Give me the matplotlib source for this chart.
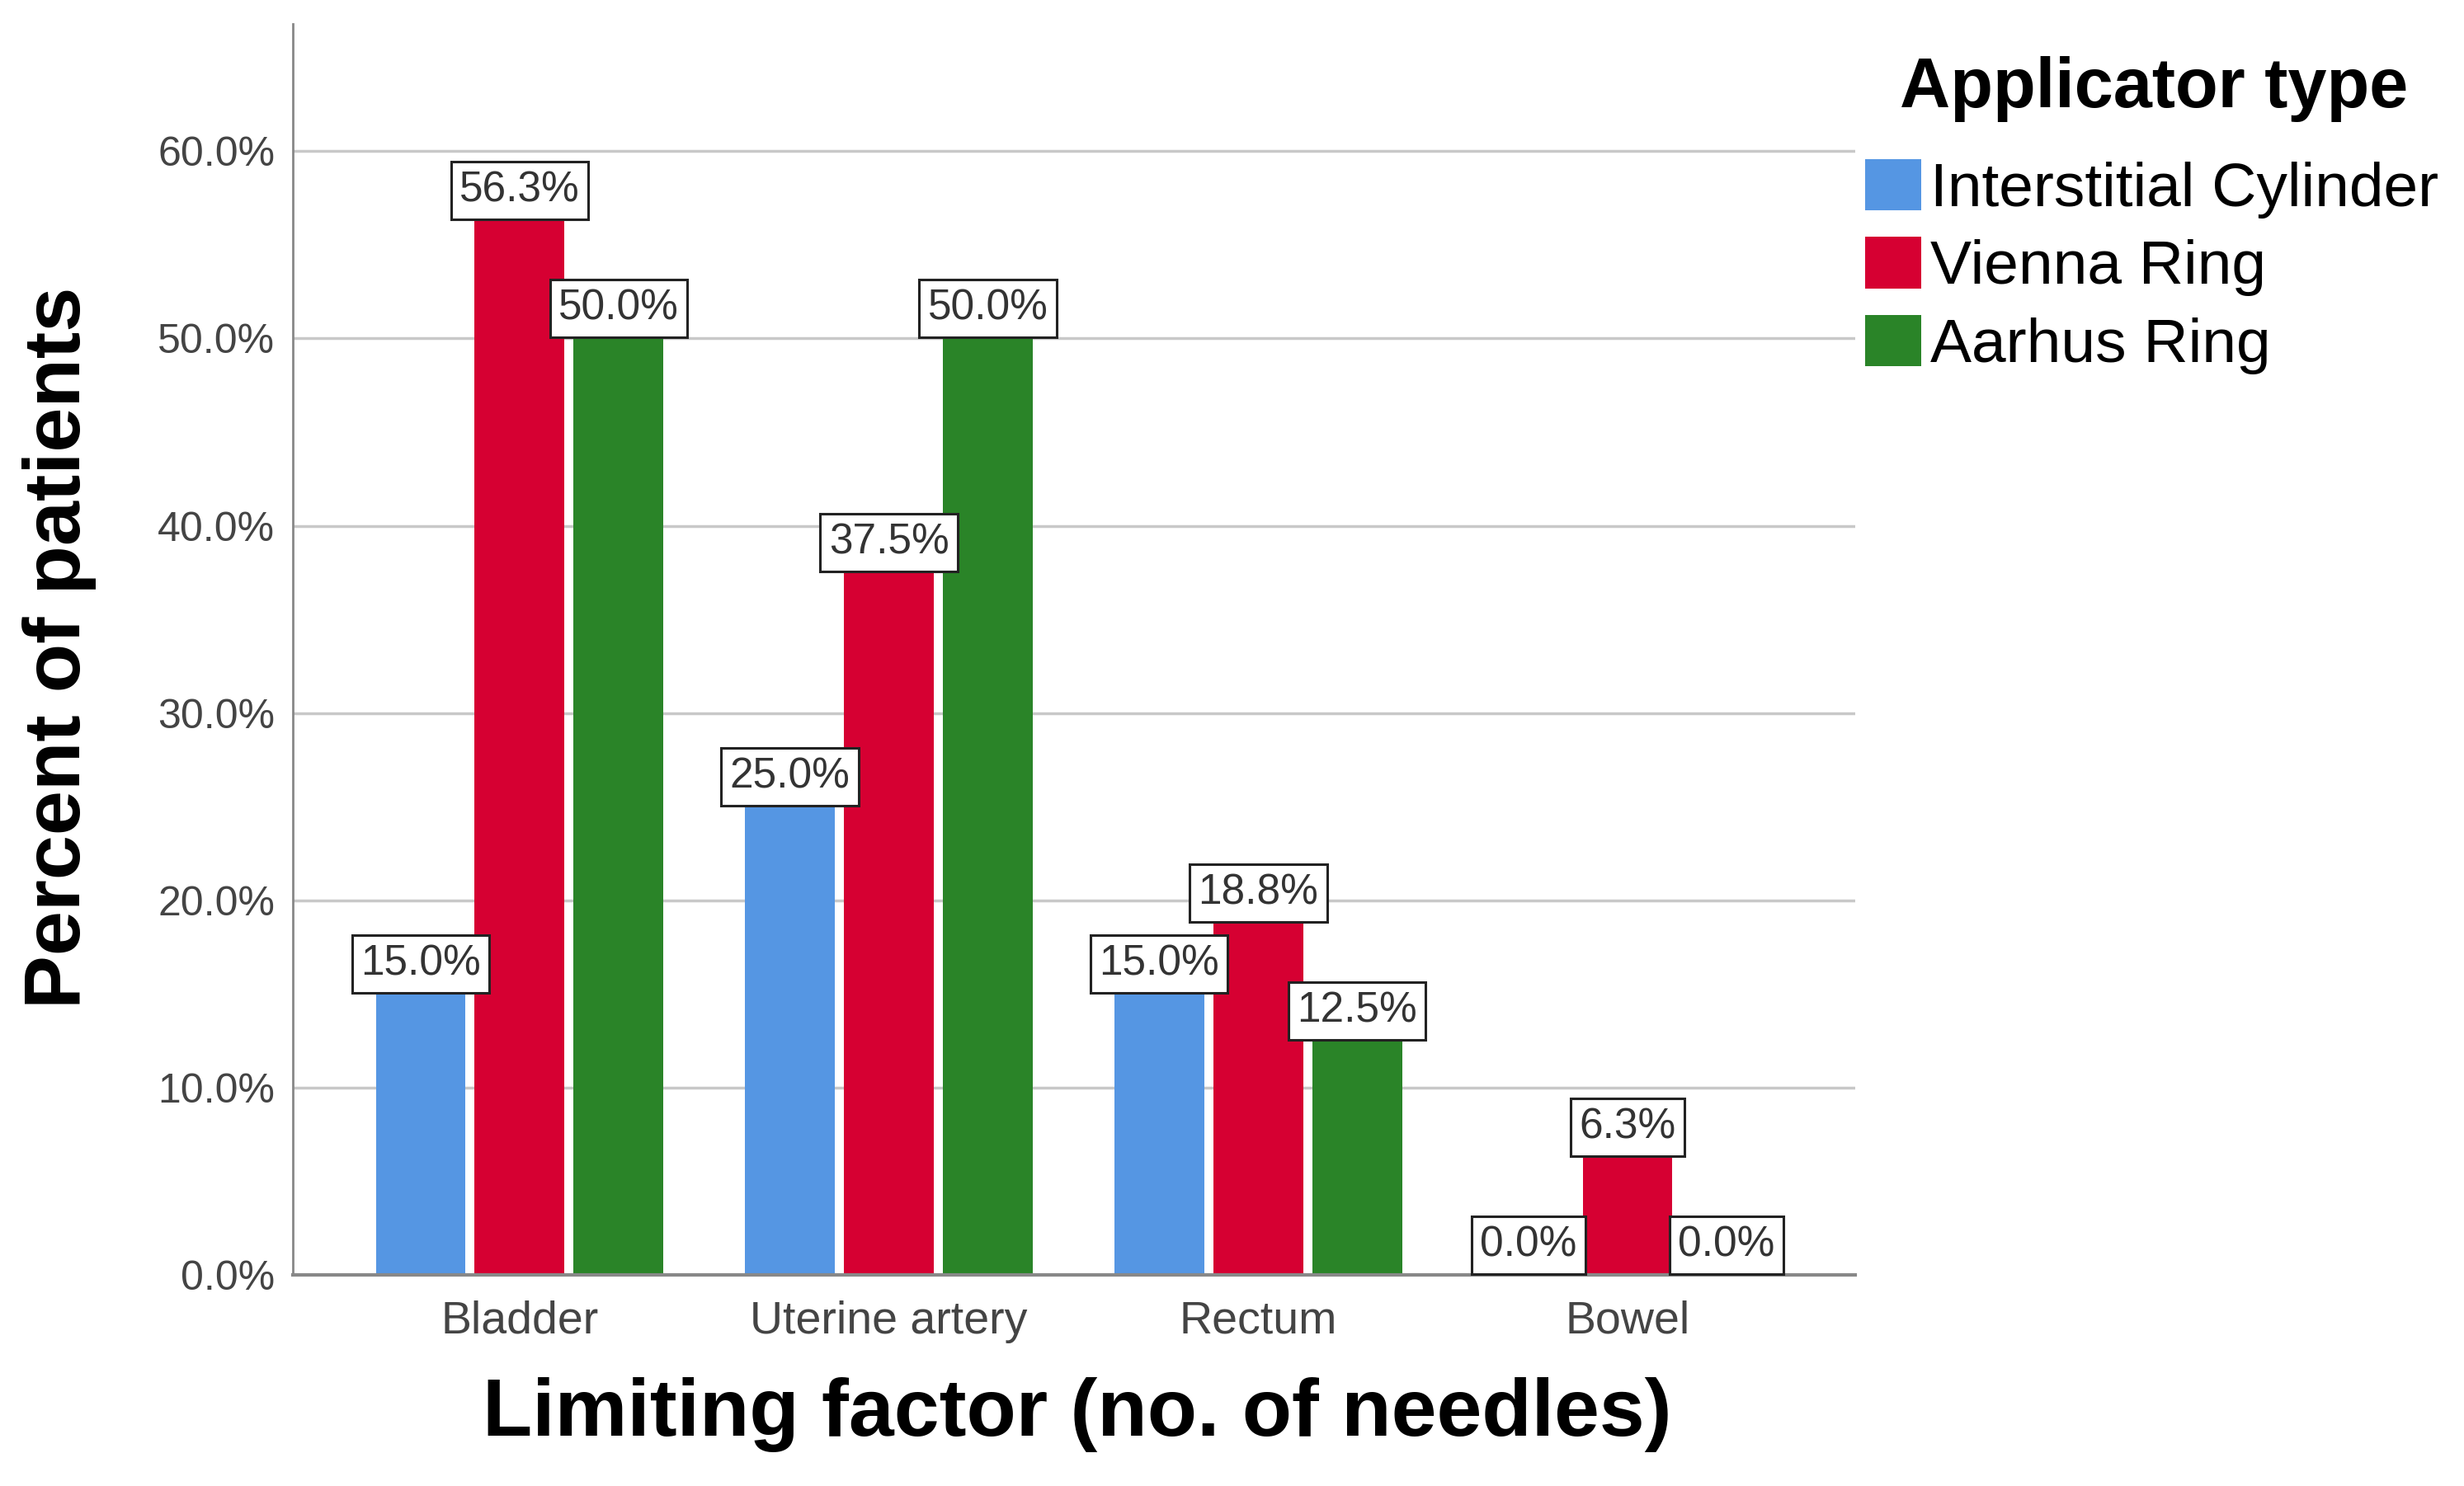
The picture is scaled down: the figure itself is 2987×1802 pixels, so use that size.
import matplotlib
matplotlib.use("Agg")
import matplotlib.pyplot as plt
from matplotlib.patches import Patch
import numpy as np

categories = ["Bladder", "Uterine artery", "Rectum", "Bowel"]
series_names = ["Interstitial Cylinder", "Vienna Ring", "Aarhus Ring"]
interstitial = [15.0, 25.0, 15.0, 0.0]
vienna = [56.3, 37.5, 18.8, 6.3]
aarhus = [50.0, 50.0, 12.5, 0.0]
colors = ["#5596E3", "#D60032", "#2A8428"]
yticks = [0, 10, 20, 30, 40, 50, 60]

plt.rcParams['font.family'] = ['Liberation Sans', 'DejaVu Sans']

fig = plt.figure(figsize=(29.87, 18.02), dpi=100)
ax = fig.add_axes([0.119, 0.142, 0.634, 0.842])

x = np.arange(len(categories))
width = 0.243
offsets = [-0.268, 0.0, 0.268]
series = [interstitial, vienna, aarhus]
vsize = 37
pad = 0.2
for vals, off, col, name in zip(series, offsets, colors, series_names):
    ax.bar(x + off, vals, width=width, color=col, label=name, zorder=3)
    for xi, v in zip(x, vals):
        ax.annotate(f"{v:.1f}%", xy=(xi + off, v), xytext=(0, pad * vsize + 1),
                    textcoords="offset points", ha="center", va="bottom",
                    fontsize=vsize, color="#333333", zorder=5,
                    bbox=dict(boxstyle=f"square,pad={pad}", fc="white",
                              ec="#222222", lw=2.2))

ax.set_xlim(-0.613, 3.617)
ax.set_ylim(0, 66.8)
ax.set_yticks(yticks)
ax.set_yticklabels([f"{t:.1f}%" for t in yticks])
ax.set_xticks(x)
ax.set_xticklabels(categories)
ax.tick_params(axis='y', length=0, pad=16, labelsize=36, labelcolor="#444444")
ax.tick_params(axis='x', length=0, pad=22, labelsize=40, labelcolor="#444444")
ax.grid(axis='y', color="#c8c8c8", lw=2.5, zorder=0)
for s in ["top", "right"]:
    ax.spines[s].set_visible(False)
ax.spines["left"].set_color("#888888")
ax.spines["left"].set_linewidth(2)
ax.spines["bottom"].set_color("#888888")
ax.spines["bottom"].set_linewidth(3)
ax.spines["bottom"].set_zorder(4)

fig.text(0.024, 0.564, "Percent of patients", rotation=90, ha="center", va="center",
         fontsize=70, fontweight="bold")
fig.text(0.437, 0.048, "Limiting factor (no. of needles)", ha="center", va="center",
         fontsize=71, fontweight="bold")

fig.text(0.874, 0.940, "Applicator type", ha="center", va="center",
         fontsize=61, fontweight="bold")
handles = [Patch(facecolor=c, edgecolor="none") for c in colors]
fig.legend(handles, series_names, loc="upper left", bbox_to_anchor=(0.757, 0.893),
           frameon=False, fontsize=54, handlelength=0.9, handleheight=0.9,
           handletextpad=0.15, labelspacing=0.3, borderaxespad=0, borderpad=0)

fig.savefig("out.png", dpi=100)
